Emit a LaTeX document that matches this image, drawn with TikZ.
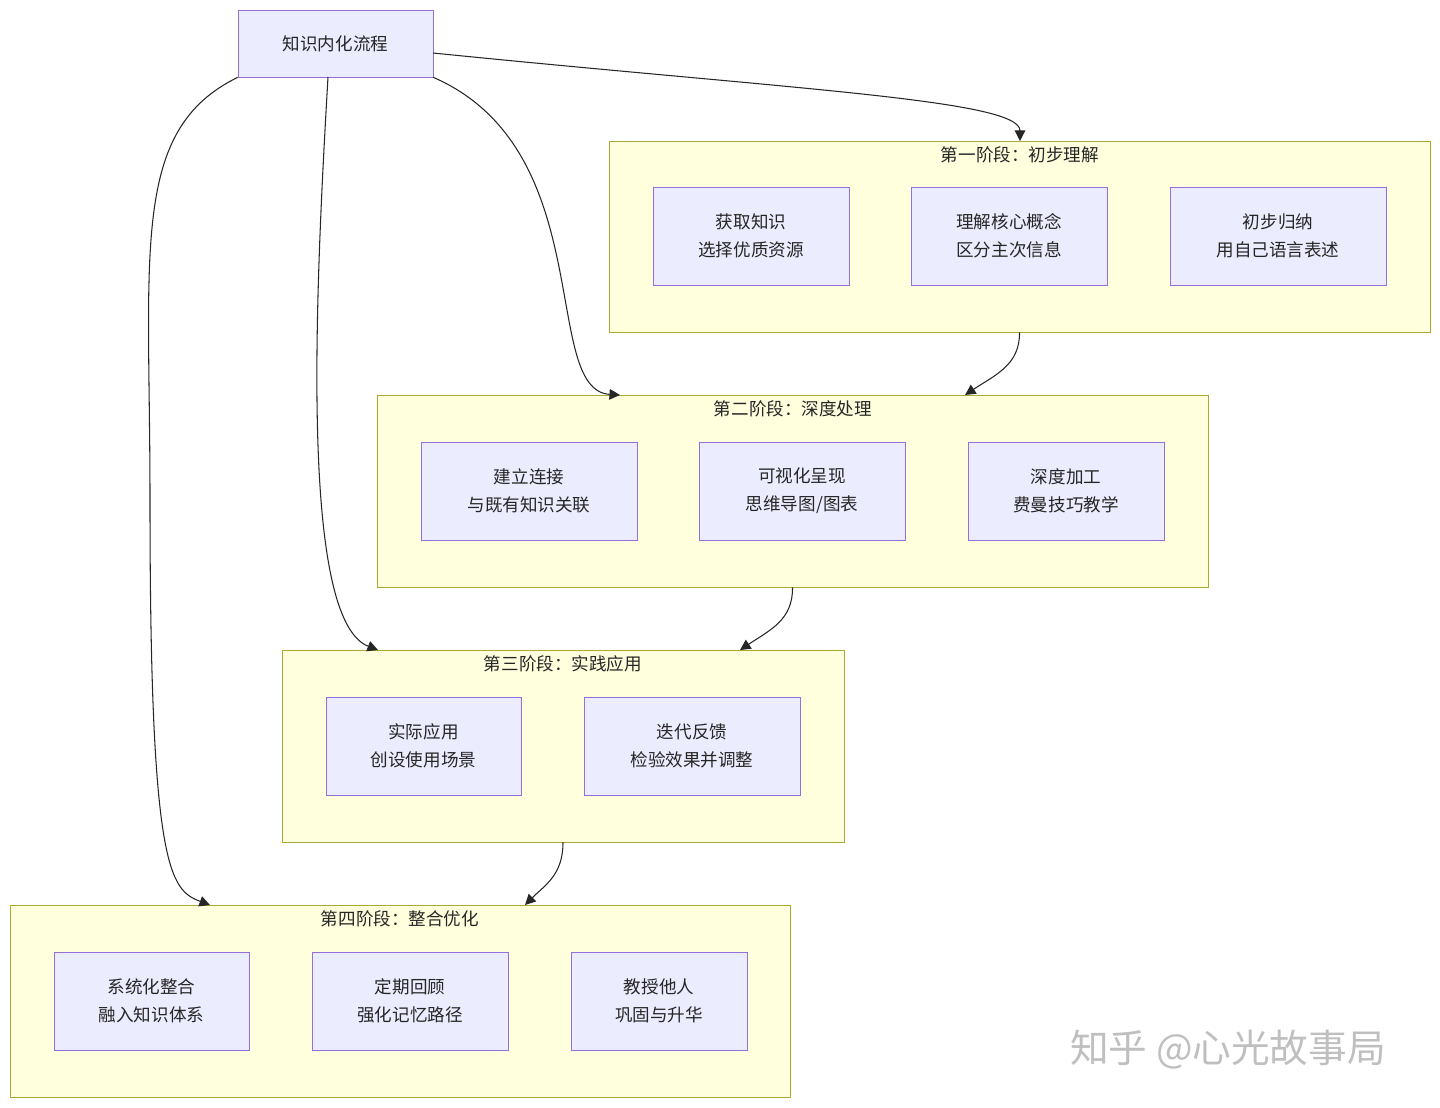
\documentclass[tikz,border=0pt]{standalone}
\usepackage{fontspec}
\setmainfont{Noto Sans CJK SC}
\usetikzlibrary{arrows.meta, positioning}
\definecolor{boxfill}{HTML}{ECECFF}
\definecolor{boxline}{HTML}{9370DB}
\definecolor{grpfill}{HTML}{FFFFDE}
\definecolor{grpline}{HTML}{AAAA33}
\tikzset{>={Triangle[length=6pt,width=6pt]}}

\begin{document}
\begin{tikzpicture}[x=0.02cm, y=-0.02cm, every node/.style={font=\fontsize{10}{16}\selectfont, text=black!85},
  stepbox/.style={draw=boxline, fill=boxfill, align=center, inner sep=0pt},
  group/.style={draw=grpline, fill=grpfill, inner sep=0pt},
  grptitle/.style={inner sep=0pt},
  link/.style={->, black!85, line width=0.6pt}]

\useasboundingbox (0,0) rectangle (1440,1107);

% --- Start ---
\node[stepbox, minimum width=3.9cm, minimum height=1.34cm] (start) at (335.5,43.5) {知识内化流程};

% --- Stage groups ---
\node[group, minimum width=16.42cm, minimum height=3.82cm] (g1) at (1019.5,236.5) {};
\node[grptitle] (t1) at (1020,155) {第一阶段：初步理解};
\node[group, minimum width=16.62cm, minimum height=3.84cm] (g2) at (792.5,491) {};
\node[grptitle] (t2) at (793,409) {第二阶段：深度处理};
\node[group, minimum width=11.24cm, minimum height=3.84cm] (g3) at (563,746) {};
\node[grptitle] (t3) at (563,664) {第三阶段：实践应用};
\node[group, minimum width=15.6cm, minimum height=3.84cm] (g4) at (400,1001) {};
\node[grptitle] (t4) at (400,919) {第四阶段：整合优化};

% --- Stage 1 ---
\node[stepbox, minimum width=3.92cm, minimum height=1.96cm] (s1a) at (751,236) {获取知识\\选择优质资源};
\node[stepbox, minimum width=3.92cm, minimum height=1.96cm] (s1b) at (1009,236) {理解核心概念\\区分主次信息};
\node[stepbox, minimum width=4.32cm, minimum height=1.96cm] (s1c) at (1278,236) {初步归纳\\用自己语言表述};

% --- Stage 2 ---
\node[stepbox, minimum width=4.32cm, minimum height=1.96cm] (s2a) at (529,491) {建立连接\\与既有知识关联};
\node[stepbox, minimum width=4.12cm, minimum height=1.96cm] (s2b) at (802,491) {可视化呈现\\思维导图/图表};
\node[stepbox, minimum width=3.92cm, minimum height=1.96cm] (s2c) at (1066,491) {深度加工\\费曼技巧教学};

% --- Stage 3 ---
\node[stepbox, minimum width=3.9cm, minimum height=1.96cm] (s3a) at (423.5,746) {实际应用\\创设使用场景};
\node[stepbox, minimum width=4.32cm, minimum height=1.96cm] (s3b) at (692,746) {迭代反馈\\检验效果并调整};

% --- Stage 4 ---
\node[stepbox, minimum width=3.9cm, minimum height=1.96cm] (s4a) at (151.5,1001) {系统化整合\\融入知识体系};
\node[stepbox, minimum width=3.92cm, minimum height=1.96cm] (s4b) at (410,1001) {定期回顾\\强化记忆路径};
\node[stepbox, minimum width=3.52cm, minimum height=1.96cm] (s4c) at (659,1001) {教授他人\\巩固与升华};

% --- Entry points ---
\coordinate (o1) at (433,53);
\coordinate (o3) at (328,77);
\coordinate (e1) at (1020,141);
\coordinate (e2a) at (620,395);
\coordinate (e2b) at (965,395);
\coordinate (e3a) at (378,650);
\coordinate (e3b) at (740,650);
\coordinate (e4a) at (210,905);
\coordinate (e4b) at (525,905);

% --- Links ---
\draw[link] (o1) .. controls (800,90) and (1020,100) .. (e1);
\draw[link] (start.south east) .. controls (600,150) and (540,390) .. (e2a);
\draw[link] (o3) .. controls (315,300) and (300,620) .. (e3a);
\draw[link] (start.south west) .. controls (130,130) and (150,250) .. (150,500) .. controls (150,870) and (170,890) .. (e4a);
\draw[link] (g1.south) .. controls (1020,365) and (995,375) .. (e2b);
\draw[link] (g2.south) .. controls (793,620) and (770,630) .. (e3b);
\draw[link] (g3.south) .. controls (563,875) and (545,885) .. (e4b);

% --- Watermark ---
\node[font=\fontsize{22}{26}\selectfont, text=black!25] (mark) at (1228,1050) {知乎 @心光故事局};

\end{tikzpicture}
\end{document}
